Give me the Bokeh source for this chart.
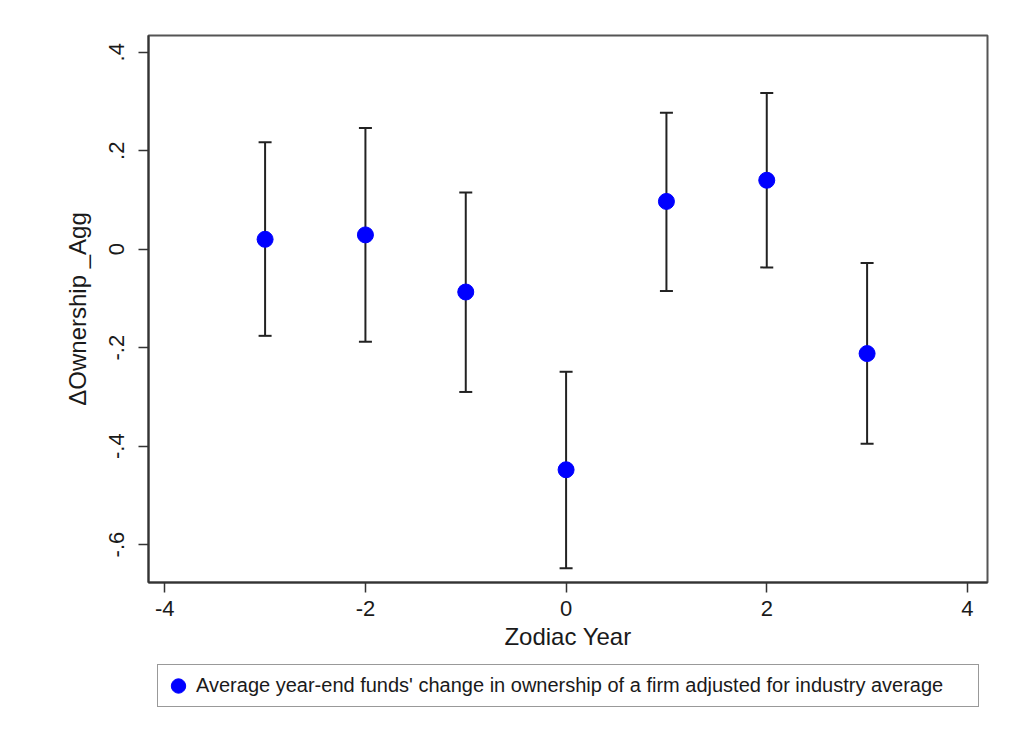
from bokeh.plotting import figure
from bokeh.layouts import column
from bokeh.models import (ColumnDataSource, Whisker, TeeHead, Legend, LegendItem,
                          Range1d, FixedTicker)
from bokeh.embed import file_html
from bokeh.resources import INLINE

# ---- data ----
zodiac_year = [-3, -2, -1, 0, 1, 2, 3]
coef = [0.020, 0.029, -0.087, -0.448, 0.097, 0.140, -0.212]
ci_upper = [0.217, 0.246, 0.115, -0.249, 0.277, 0.317, -0.028]
ci_lower = [-0.176, -0.188, -0.290, -0.648, -0.085, -0.037, -0.395]

x_ticks = [-4, -2, 0, 2, 4]
x_tick_labels = ["-4", "-2", "0", "2", "4"]
y_ticks = [-0.6, -0.4, -0.2, 0.0, 0.2, 0.4]
y_tick_labels = ["-.6", "-.4", "-.2", "0", ".2", ".4"]

x_title = "Zodiac Year"
y_title = "\u0394Ownership _Agg"
legend_text = "Average year-end funds' change in ownership of a firm adjusted for industry average"

FONT = "Liberation Sans"
TXT = "#1a1a1a"
BLUE = "#0000ff"

src = ColumnDataSource(dict(x=zodiac_year, y=coef, upper=ci_upper, lower=ci_lower))

p = figure(frame_width=839, frame_height=547, output_backend="svg", toolbar_location=None,
           x_range=Range1d(-4.162, 4.2), y_range=Range1d(-0.677, 0.434),
           min_border_left=148, min_border_right=26, min_border_top=35,
           min_border_bottom=78)
p.background_fill_color = "white"
p.border_fill_color = "white"
p.grid.visible = False
p.outline_line_color = "#555555"
p.outline_line_width = 2

w = Whisker(base="x", upper="upper", lower="lower", source=src,
            line_color="#222222", line_width=2,
            upper_head=TeeHead(size=13, line_color="#222222", line_width=2),
            lower_head=TeeHead(size=13, line_color="#222222", line_width=2))
p.add_layout(w)

r = p.scatter("x", "y", source=src, size=16, fill_color=BLUE, line_color=BLUE)

# axes
p.xaxis.ticker = FixedTicker(ticks=x_ticks)
p.xaxis.major_label_overrides = {t: l for t, l in zip(x_ticks, x_tick_labels)}
p.yaxis.ticker = FixedTicker(ticks=y_ticks)
p.yaxis.major_label_overrides = {t: l for t, l in zip(y_ticks, y_tick_labels)}
p.yaxis.major_label_orientation = "vertical"

for ax in (p.xaxis[0], p.yaxis[0]):
    ax.axis_line_color = "#333333"
    ax.axis_line_width = 2
    ax.major_tick_line_color = "#333333"
    ax.major_tick_line_width = 1.5
    ax.major_tick_out = 10
    ax.major_tick_in = 0
    ax.minor_tick_line_color = None
    ax.major_label_text_font = FONT
    ax.major_label_text_font_size = "22px"
    ax.major_label_text_color = TXT
    ax.axis_label_text_font = FONT
    ax.axis_label_text_font_size = "24px"
    ax.axis_label_text_font_style = "normal"
    ax.axis_label_text_color = TXT

p.xaxis.axis_label = x_title
p.yaxis.axis_label = y_title
p.xaxis.major_label_standoff = 8
p.xaxis.axis_label_standoff = 4
p.yaxis.major_label_standoff = 14
p.yaxis.axis_label_standoff = 16

# ---- legend strip below the plot (its frame aligns with the main frame) ----
leg_fig = figure(width=1013, height=81, output_backend="svg", toolbar_location=None,
                 x_range=Range1d(10, 11), y_range=Range1d(10, 11),
                 x_axis_location=None, y_axis_location=None, min_border=0)
leg_fig.grid.visible = False
leg_fig.outline_line_color = None
leg_fig.background_fill_color = "white"
leg_fig.border_fill_color = "white"
r_leg = leg_fig.scatter("x", "y", source=src, size=16, fill_color=BLUE, line_color=BLUE)

legend = Legend(items=[LegendItem(label=legend_text, renderers=[r_leg])],
                location=(9, 34), orientation="horizontal",
                label_text_font=FONT, label_text_font_size="20px", label_text_color=TXT,
                border_line_color="#333333", border_line_width=1.5,
                background_fill_color="white", background_fill_alpha=1.0,
                padding=2, glyph_width=36, glyph_height=37, label_standoff=0,
                label_width=780, label_height=37, margin=0)
leg_fig.add_layout(legend, "center")

layout = column(p, leg_fig, spacing=0)
open("out.html", "w").write(file_html(layout, INLINE))
